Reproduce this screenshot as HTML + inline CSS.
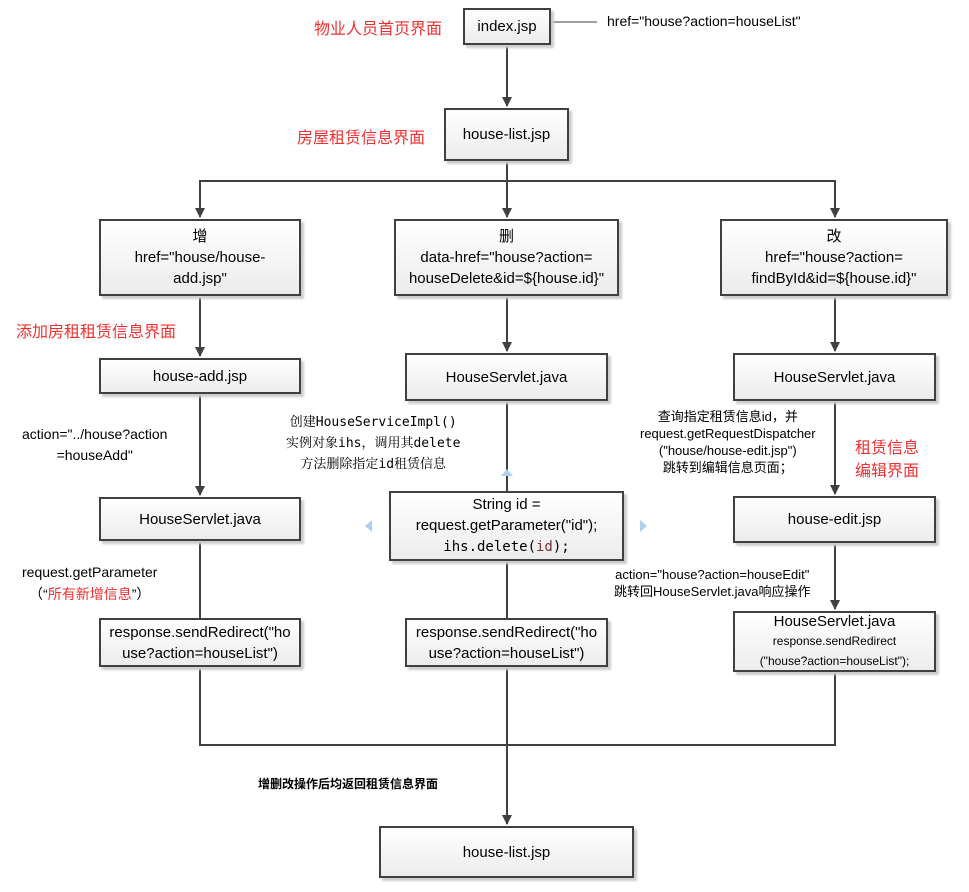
<!DOCTYPE html>
<html><head><meta charset="utf-8"><style>
body{margin:0;width:969px;height:892px;background:#fff;position:relative;overflow:hidden;font-family:"Liberation Sans","Noto Sans CJK SC",sans-serif;color:#000}
.b{position:absolute;box-sizing:border-box;border:2px solid #404040;background:linear-gradient(#fff,#ececec);box-shadow:3px 3px 2px #ccc;display:flex;align-items:center;justify-content:center;text-align:center;font-size:15px;line-height:21px}
.t{position:absolute;white-space:nowrap;text-align:center}
.r{color:#f03030;font-size:16px}
.s{font-size:13px;line-height:17px}
.m{font-family:"DejaVu Sans Mono","Noto Serif CJK SC",monospace;font-size:13px;line-height:21px}
</style></head><body>
<svg width="969" height="892" style="position:absolute;left:0;top:0">
<defs><marker id="a" markerWidth="10" markerHeight="10" refX="9" refY="5" orient="auto" markerUnits="userSpaceOnUse"><path d="M0,0 L10,5 L0,10 z" fill="#404040"/></marker></defs>
<g stroke="#404040" stroke-width="2" fill="none">
<line x1="551" y1="22" x2="597" y2="22" stroke-width="1"/>
<line x1="507" y1="45" x2="507" y2="106" marker-end="url(#a)"/>
<line x1="507" y1="161" x2="507" y2="217" marker-end="url(#a)"/>
<polyline points="200,217 200,181 835,181 835,217" marker-end="url(#a)"/>
<line x1="200" y1="181" x2="200" y2="217" marker-end="url(#a)"/>
<line x1="200" y1="296" x2="200" y2="356" marker-end="url(#a)"/>
<line x1="507" y1="296" x2="507" y2="351" marker-end="url(#a)"/>
<line x1="835" y1="296" x2="835" y2="351" marker-end="url(#a)"/>
<line x1="200" y1="394" x2="200" y2="495" marker-end="url(#a)"/>
<line x1="507" y1="401" x2="507" y2="491"/>
<line x1="835" y1="401" x2="835" y2="494" marker-end="url(#a)"/>
<line x1="200" y1="541" x2="200" y2="618"/>
<line x1="507" y1="561" x2="507" y2="618"/>
<line x1="835" y1="543" x2="835" y2="609" marker-end="url(#a)"/>
<polyline points="200,667 200,745 835,745 835,672"/>
<line x1="507" y1="667" x2="507" y2="824" marker-end="url(#a)"/>
</g>
<path d="M501,476 L507,469 L513,476z" fill="#aed0f0"/>
<path d="M640,520 L647,526 L640,532z" fill="#aed0f0"/>
<path d="M372,520 L365,526 L372,532z" fill="#aed0f0"/>
</svg>
<div class="b" style="left:463px;top:8px;width:88px;height:37px"><span>index.jsp</span></div>
<div class="b" style="left:444px;top:108px;width:125px;height:53px"><span>house-list.jsp</span></div>
<div class="b" style="left:99px;top:219px;width:202px;height:77px"><span>增<br>href="house/house-<br>add.jsp"</span></div>
<div class="b" style="left:394px;top:219px;width:225px;height:77px"><span>删<br>data-href="house?action=<br>houseDelete&amp;id=${house.id}"</span></div>
<div class="b" style="left:720px;top:219px;width:228px;height:77px"><span>改<br>href="house?action=<br>findById&amp;id=${house.id}"</span></div>
<div class="b" style="left:99px;top:358px;width:202px;height:36px"><span>house-add.jsp</span></div>
<div class="b" style="left:405px;top:353px;width:203px;height:48px"><span>HouseServlet.java</span></div>
<div class="b" style="left:733px;top:353px;width:203px;height:48px"><span>HouseServlet.java</span></div>
<div class="b" style="left:99px;top:497px;width:202px;height:44px"><span>HouseServlet.java</span></div>
<div class="b" style="left:389px;top:491px;width:235px;height:70px"><div>String id =<br>request.getParameter("id");<br><span class="m" style="font-size:14px">ihs.delete(<span style="color:#7a3030">id</span>);</span></div></div>
<div class="b" style="left:733px;top:496px;width:203px;height:47px"><span>house-edit.jsp</span></div>
<div class="b" style="left:99px;top:618px;width:202px;height:49px"><span>response.sendRedirect("ho<br>use?action=houseList")</span></div>
<div class="b" style="left:405px;top:618px;width:203px;height:49px"><span>response.sendRedirect("ho<br>use?action=houseList")</span></div>
<div class="b" style="left:733px;top:611px;width:203px;height:61px;line-height:19px"><div>HouseServlet.java<br><span style="font-size:12px">response.sendRedirect<br>("house?action=houseList");</span></div></div>
<div class="b" style="left:379px;top:826px;width:255px;height:52px"><span>house-list.jsp</span></div>

<div class="t" style="left:607px;top:13px;font-size:14px">href="house?action=houseList"</div>
<div class="t r" style="left:314px;top:15px">物业人员首页界面</div>
<div class="t r" style="left:297px;top:124px">房屋租赁信息界面</div>
<div class="t r" style="left:16px;top:318px">添加房租租赁信息界面</div>
<div class="t r" style="left:855px;top:437px;line-height:23px;text-align:left">租赁信息<br>编辑界面</div>
<div class="t" style="left:22px;top:424px;font-size:14px;line-height:21px">action="../house?action<br>=houseAdd"</div>
<div class="t m" style="left:286px;top:412px">创建HouseServiceImpl()<br>实例对象ihs，调用其delete<br>方法删除指定id租赁信息</div>
<div class="t s" style="left:640px;top:408px">查询指定租赁信息id，并<br>request.getRequestDispatcher<br>("house/house-edit.jsp")<br>跳转到编辑信息页面；</div>
<div class="t" style="left:22px;top:561px;font-size:14px;line-height:22px">request.getParameter<br>（“<span style="color:#f03030">所有新增信息</span>”）</div>
<div class="t s" style="left:614px;top:566px">action="house?action=houseEdit"<br>跳转回HouseServlet.java响应操作</div>
<div class="t" style="left:258px;top:775px;font-size:12px;font-weight:bold">增删改操作后均返回租赁信息界面</div>
</body></html>
